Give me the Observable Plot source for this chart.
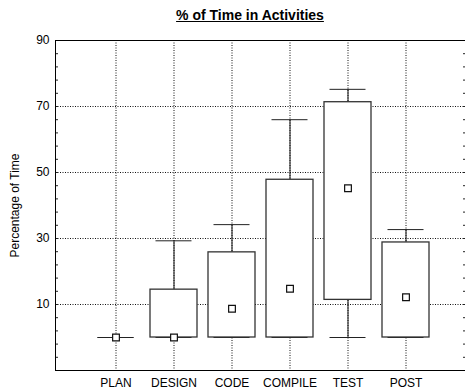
<!DOCTYPE html>
<html><head><meta charset="utf-8">
<script src="https://cdn.jsdelivr.net/npm/d3@7"></script>
<script src="https://cdn.jsdelivr.net/npm/@observablehq/plot@0.6"></script>
<style>
body{margin:0;background:#fff;font-family:"Liberation Sans",Arial,sans-serif}
#title{height:26px;box-sizing:border-box;padding-top:7px;padding-left:35px;text-align:center;font:bold 14px "Liberation Sans",Arial,sans-serif;line-height:16px;}
#title span{text-decoration:underline}
</style></head>
<body><div id="title"><span>% of Time in Activities</span></div><div id="chart"></div>
<script>
const categories = ["PLAN","DESIGN","CODE","COMPILE","TEST","POST"];
const whiskerLow = [0,0,0,0,0,0];
const boxLow = [0,0,0,0,11.4,0];
const medians = [0,0,8.7,14.8,45.2,12.2];
const boxHigh = [0,14.5,25.8,47.8,71.3,28.8];
const whiskerHigh = [0,29.3,34.2,66,75.2,32.7];
const yTicks = [10,30,50,70,90];
const yDomain = [-10,90];
const minorStep = 4;

const data = categories.map((c,i)=>({cat:c, lo:whiskerLow[i], q1:boxLow[i], med:medians[i], q3:boxHigh[i], hi:whiskerHigh[i]}));
const minorTicks = d3.range(yDomain[0], yDomain[1]+0.001, minorStep);
const dotted = {stroke:"#111", strokeOpacity:1, strokeDasharray:"1,1.5"};

const chart = Plot.plot({
  width:465, height:366, marginTop:14, marginBottom:22, marginLeft:55, marginRight:0,
  style:{fontFamily:'"Liberation Sans", Arial, sans-serif', fontSize:"12px", background:"white", color:"black"},
  x:{type:"band", domain:categories, paddingInner:0.198, paddingOuter:0.599, label:null},
  y:{domain:yDomain, label:null},
  marks:[
    Plot.gridY(yTicks.slice(0,-1), dotted),
    Plot.gridX(categories, dotted),
    Plot.ruleX(data, {x:"cat", y1:"lo", y2:"hi", stroke:"#111"}),
    Plot.tickY(data, {x:"cat", y:"hi", insetLeft:5.5, insetRight:5.5, stroke:"#222"}),
    Plot.tickY(data, {x:"cat", y:"lo", insetLeft:5.5, insetRight:5.5, stroke:"#222"}),
    Plot.barY(data, {x:"cat", y1:"q1", y2:"q3", fill:"white", stroke:"#333", strokeWidth:1.3}),
    Plot.dot(data, {x:"cat", y:"med", symbol:"square", r:3.8, fill:"white", stroke:"#111", strokeWidth:1.2}),
    Plot.axisY(yTicks, {tickSize:0, tickPadding:6, label:"Percentage of Time", labelAnchor:"center", labelArrow:"none", labelOffset:45}),
    Plot.axisY(minorTicks, {tickSize:-3, text:null, label:null, stroke:"#222"}),
    Plot.axisY(minorTicks, {anchor:"right", tickSize:-3, text:null, label:null, stroke:"#222"}),
    Plot.axisX({tickSize:0, tickPadding:8, label:null}),
    Plot.frame({stroke:"black"})
  ]
});
document.getElementById("chart").appendChild(chart);
</script>
</body></html>
